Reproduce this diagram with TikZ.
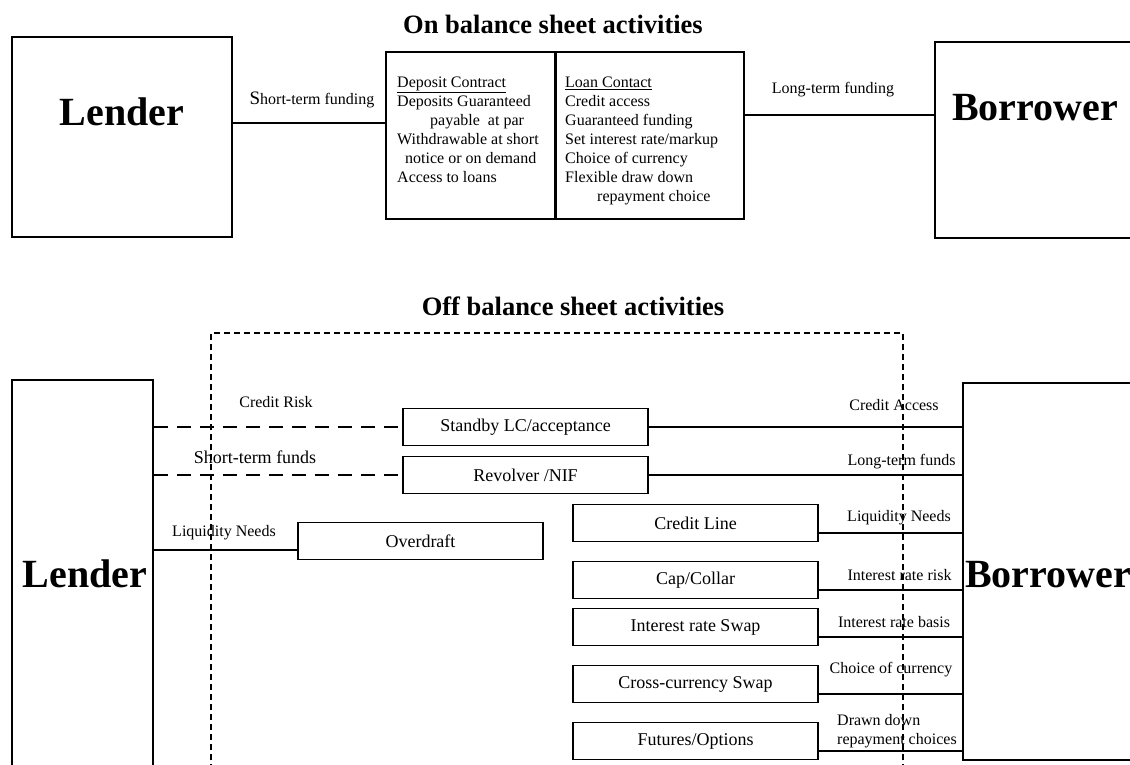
\documentclass[tikz,border=0pt]{standalone}
\usepackage{fontspec}
\setmainfont{Liberation Serif}
\usepackage{tikz}

\begin{document}
\begin{tikzpicture}[x=1pt, y=-1pt,
  box/.style={draw, line width=1.6pt, inner sep=0pt},
  prod/.style={box, minimum width=245pt, minimum height=37pt, font=\fontsize{18}{20}\selectfont},
  bigname/.style={font=\bfseries\fontsize{40}{44}\selectfont, inner sep=0pt},
  headline/.style={font=\bfseries\fontsize{26.5}{30}\selectfont, inner sep=0pt},
  lbl/.style={font=\fontsize{16}{19}\selectfont, inner sep=0pt},
  link/.style={line width=1.7pt},
  dlink/.style={line width=1.8pt, dash pattern=on 14pt off 9pt},
  offframe/.style={line width=1.4pt, dash pattern=on 6pt off 4pt}]
\useasboundingbox (0,0) rectangle (1130,764);

% on balance sheet
\node[headline] (onTitle) at (553,24) {On balance sheet activities};

\node[box, minimum width=220pt, minimum height=200pt] (lenderA) at (122,137) {};
\node[bigname] (lenderAname) at (122,112) {Lender};
\node[box, minimum width=210pt, minimum height=196pt] (borrowerA) at (1040,140) {};
\node[bigname] (borrowerAname) at (1035,108) {Borrower};

\node[box, minimum width=169pt, minimum height=167pt] (deposit) at (470.5,135.5) {};
\node[box, minimum width=189pt, minimum height=167pt] (loan) at (649.5,135.5) {};
\draw[line width=2.8pt] (deposit.north east) -- (deposit.south east);

\node[lbl, align=left, anchor=north west] (depositTxt) at (397,77) {\underline{Deposit Contract}\\
  Deposits Guaranteed\\ \hspace*{33pt}payable\ \ at par\\ Withdrawable at short\\
  \hspace*{8pt}notice or on demand\\ Access to loans};
\node[lbl, align=left, anchor=north west] (loanTxt) at (565,77) {\underline{Loan Contact}\\
  Credit access\\ Guaranteed funding\\ Set interest rate/markup\\ Choice of currency\\
  Flexible draw down\\ \hspace*{32pt}repayment choice};

\draw[link] ([yshift=12.5pt]deposit.west -| lenderA.east) -- ([yshift=12.5pt]deposit.west);
\draw[link] ([yshift=20.5pt]loan.east) -- ([yshift=20.5pt]loan.east -| borrowerA.west);
\node[lbl] (shortFunding) at (312,100) {{\fontsize{19}{19}\selectfont S}hort-term funding};
\node[lbl] (longFunding) at (833,90) {Long-term funding};

% off balance sheet
\node[headline] (offTitle) at (573,306) {Off balance sheet activities};
\draw[offframe] (211,780) -- (211,333) -- (903,333) -- (903,780);

\node[box, minimum width=141pt, minimum height=410pt] (lenderB) at (82.5,585) {};
\node[bigname] (lenderBname) at (85,574) {Lender};
\node[box, minimum width=182pt, minimum height=377pt] (borrowerB) at (1054,571.5) {};
\node[bigname] (borrowerBname) at (1048,575) {Borrower};

\node[prod] (standby) at (525.5,427) {Standby LC/acceptance};
\node[prod] (revolver) at (525.5,475) {Revolver /NIF};
\node[prod] (overdraft) at (420.5,541) {Overdraft};
\node[prod] (creditLine) at (695.5,523) {Credit Line};
\node[prod] (capCollar) at (695.5,580) {Cap/Collar};
\node[prod] (irSwap) at (695.5,627) {Interest rate Swap};
\node[prod] (ccySwap) at (695.5,684) {Cross-currency Swap};
\node[prod] (futures) at (695.5,741) {Futures/Options};

\draw[dlink] (standby.west -| lenderB.east) -- (standby.west);
\draw[dlink] (revolver.west -| lenderB.east) -- (revolver.west);
\draw[link] ([yshift=-9pt]overdraft.west -| lenderB.east) -- ([yshift=-9pt]overdraft.west);
\draw[link] (standby.east) -- (standby.east -| borrowerB.west);
\draw[link] (revolver.east) -- (revolver.east -| borrowerB.west);
\foreach \p in {creditLine, capCollar, irSwap, ccySwap, futures}
  \draw[link] ([yshift=-10pt]\p.east) -- ([yshift=-10pt]\p.east -| borrowerB.west);

\node[lbl] (creditRisk) at (276,402) {Credit Risk};
\node[lbl, font=\fontsize{18}{20}\selectfont] (shortFunds) at (255,457) {Short-term funds};
\node[lbl] (liqLeft) at (224,533) {Liquidity Needs};
\node[lbl] (creditAccess) at (894,405) {Credit Access};
\node[lbl] (longFunds) at (901.5,462) {Long-term funds};
\node[lbl] (liqRight) at (899,518) {Liquidity Needs};
\node[lbl] (irRisk) at (899.5,575) {Interest rate risk};
\node[lbl] (irBasis) at (894,622) {Interest rate basis};
\node[lbl] (ccyChoice) at (891,670) {Choice of currency};
\node[lbl, align=left, anchor=west] (drawnDown) at (837,731) {Drawn down\\ repayment choices};
\end{tikzpicture}
\end{document}
